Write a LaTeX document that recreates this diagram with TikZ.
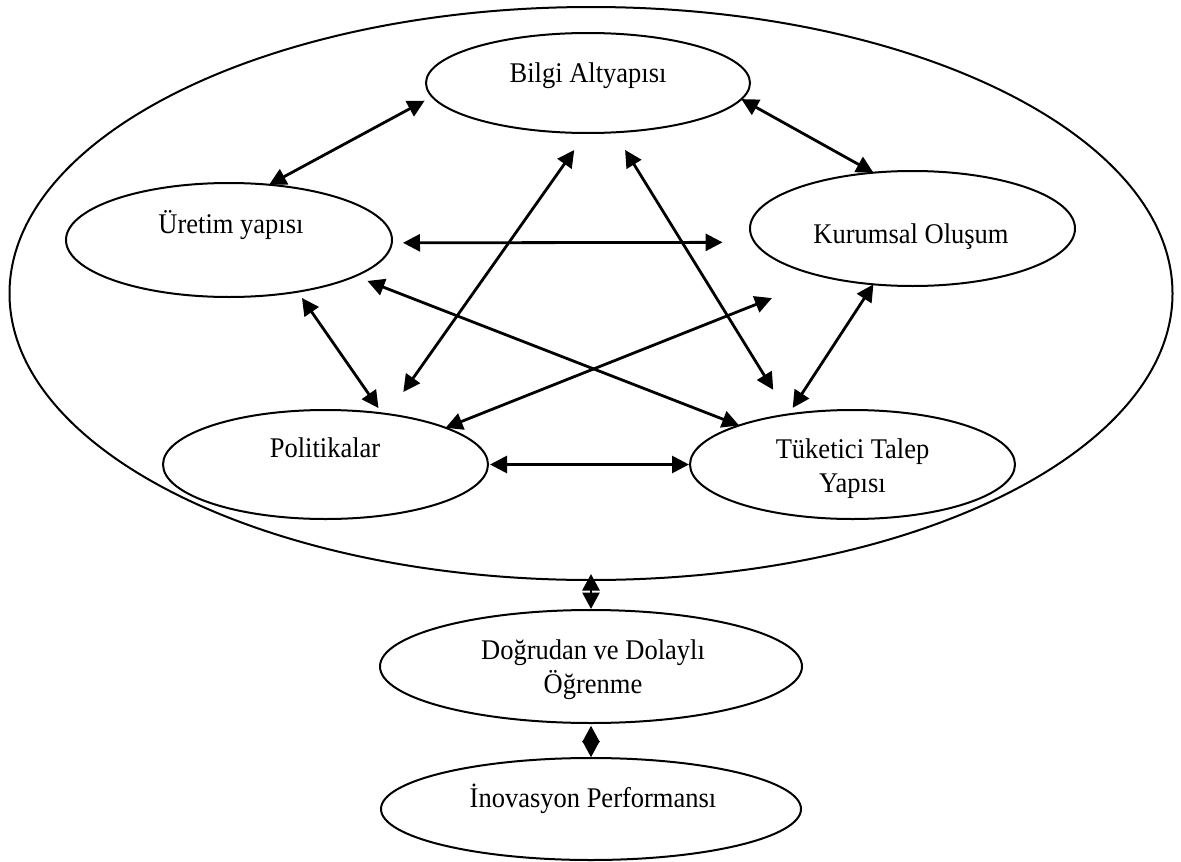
\documentclass[tikz,border=0pt]{standalone}
\usepackage{fontspec}
\setmainfont{Liberation Serif}[FakeStretch=0.93]
\usetikzlibrary{arrows.meta,shapes.geometric}
\begin{document}
\begin{tikzpicture}[x=1pt,y=-1pt,
  oval/.style 2 args={draw, ellipse, line width=2pt, inner sep=0pt, outer sep=0pt,
    minimum width=#1, minimum height=#2},
  lbl/.style={font=\fontsize{28.5}{34}\selectfont, inner sep=0pt, anchor=base, align=center},
  dbl/.style={line width=2.8pt, {Triangle[length=17pt,width=17pt]}-{Triangle[length=17pt,width=17pt]}},
  dblshort/.style={line width=2.8pt, {Triangle[length=16.5pt,width=17pt]}-{Triangle[length=16.5pt,width=17pt]}}
]
\useasboundingbox (0,0) rectangle (1181,862);

% outer system boundary
\node[oval={1163pt}{573pt}] (O) at (591,293.5) {};

% components of the system
\node[oval={324pt}{100pt}] (B) at (588,83) {};
\node[oval={326pt}{114pt}] (U) at (229,240) {};
\node[oval={325pt}{115pt}] (K) at (912.5,228.5) {};
\node[oval={325pt}{109pt}] (P) at (325.5,464.5) {};
\node[oval={325pt}{109pt}] (T) at (852.5,464.5) {};

% outcomes below
\node[oval={422pt}{113pt}] (D) at (591,666.5) {};
\node[oval={420pt}{102pt}] (I) at (591,809) {};

% labels (base anchor of a two-line label sits on its last line)
\node[lbl] (tB) at (588,82) {Bilgi Altyapısı};
\node[lbl] (tU) at (231,233) {Üretim yapısı};
\node[lbl] (tK) at (911,243) {Kurumsal Oluşum};
\node[lbl] (tP) at (325,457) {Politikalar};
\node[lbl] (tT) at (852.5,492) {Tüketici Talep\\Yapısı};
\node[lbl] (tD) at (593,693) {Doğrudan ve Dolaylı\\Öğrenme};
\node[lbl] (tI) at (593,807) {İnovasyon Performansı};

% interactions between components
\draw[dbl, shorten >=8.5pt] (U.54.3) -- (B.185.1);
\draw[dbl] (B.-6.75) -- (K.125.16);
\draw[dbl, shorten <=11.2pt, shorten >=32.2pt] (U.-1.06) -- (K.185.27);
\draw[dbl, shorten <=20.8pt, shorten >=27.1pt] (B.268.9) -- (P.39.2);
\draw[dbl, shorten <=20.7pt, shorten >=28.9pt] (B.-62) -- (T.142.65);
\draw[dbl, shorten <=13.3pt] (U.-16.75) -- (T.161.6);
\draw[dbl, shorten <=57.2pt] (K.209.06) -- (P.17.6);
\draw[dbl, shorten <=7.7pt, shorten >=6.5pt] (U.-37) -- (P.42.3);
\draw[dbl, shorten >=7.8pt] (K.235.5) -- (T.142.3);
\draw[dbl, shorten <=2pt, shorten >=1pt] (P.east) -- (T.west);

% links to learning and performance
\draw[dblshort, shorten <=-6pt, shorten >=1pt] (O.south) -- (D.north);
\draw[dblshort, shorten <=2.7pt, shorten >=0.7pt] (D.south) -- (I.north);
\end{tikzpicture}
\end{document}
